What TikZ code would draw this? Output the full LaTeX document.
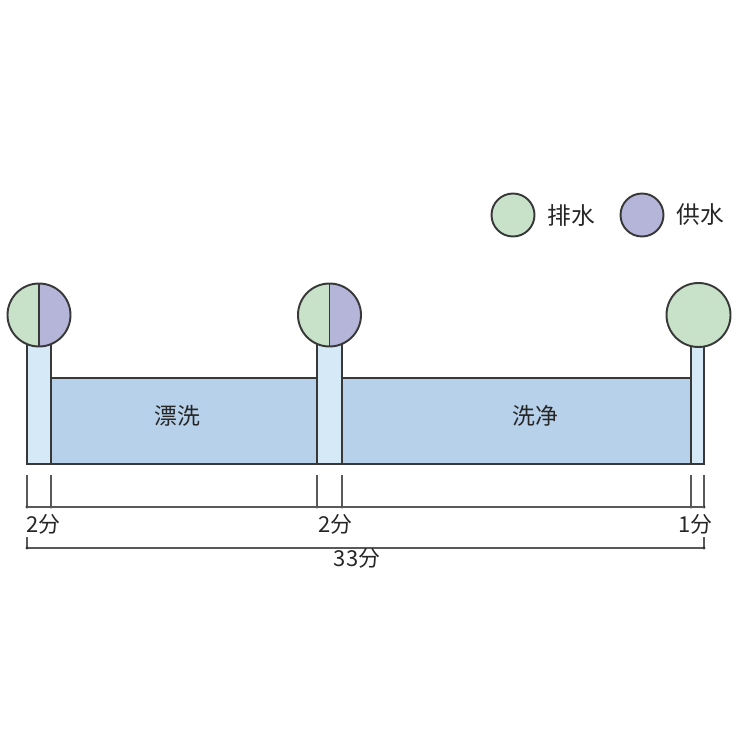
\documentclass[tikz,border=0pt]{standalone}
\usepackage{fontspec}
\setmainfont{Noto Sans CJK SC}
\begin{document}
\begin{tikzpicture}[x=0.02cm,y=-0.02cm,
  outl/.style={draw=black!78,line width=1.1pt},
  tank/.style={outl,fill=tankblue},
  pipe/.style={outl,fill=pipeblue},
  dim/.style={draw=black!65,line width=0.6pt},
  dimdot/.style={fill=black!80},
  lbl/.style={font=\fontsize{12.5}{14}\selectfont,text=black!85,inner sep=0pt},
  tlbl/.style={font=\fontsize{13}{15}\selectfont,text=black!85,inner sep=0pt},
  leg/.style={font=\fontsize{13.5}{16}\selectfont,text=black!85,inner sep=0pt}]
\definecolor{tankblue}{HTML}{B8D1EB}
\definecolor{pipeblue}{HTML}{D5E9F7}
\definecolor{drain}{HTML}{C8E2CA}
\definecolor{supply}{HTML}{B5B5DA}
\useasboundingbox (0,0) rectangle (750,750);
% tanks
\draw[tank] (51,378) rectangle (317,464);
\draw[tank] (342,378) rectangle (691,464);
% pipes
\draw[pipe] (27,340) rectangle (51,464);
\draw[pipe] (317,340) rectangle (342,464);
\draw[pipe] (691,340) rectangle (704,464);
% split circles
\foreach \cx/\nm in {39/c1,329.5/c2}{
  \fill[drain] (\cx,315) ++(90:31.5) arc[start angle=90,end angle=270,radius=31.5] -- cycle;
  \fill[supply] (\cx,315) ++(-90:31.5) arc[start angle=-90,end angle=90,radius=31.5] -- cycle;
  \draw[outl] (\cx,283.5) -- (\cx,346.5);
  \node[circle,outl,minimum size=63*0.02cm,inner sep=0pt] (\nm) at (\cx,315) {};
}
\node[circle,outl,fill=drain,minimum size=64*0.02cm,inner sep=0pt] (c3) at (698.5,315) {};
% tank labels
\node[tlbl] (t1) at (177,416) {漂洗};
\node[tlbl] (t2) at (535.5,416) {洗净};
% legend
\node[circle,outl,fill=drain,minimum size=43*0.02cm,inner sep=0pt] (l1) at (513,215) {};
\node[leg] (l1t) at (571,215) {排水};
\node[circle,outl,fill=supply,minimum size=43*0.02cm,inner sep=0pt] (l2) at (642,215) {};
\node[leg] (l2t) at (700,215) {供水};
% dimensions
\foreach \x/\n in {27/a,51/b,317/c,342/d,691/e,704/f}{
  \coordinate (\n top) at (\x,475);
  \coordinate (\n) at (\x,507);
  \draw[dim] (\n top) -- (\n);
  \fill[dimdot] (\n) circle[radius=1.6];
}
\draw[dim] (a) -- (f);
\coordinate (g) at (27,548); \coordinate (gt) at (27,537);
\coordinate (h) at (704,548); \coordinate (ht) at (704,537);
\draw[dim] (gt) -- (g); \draw[dim] (ht) -- (h);
\draw[dim] (g) -- (h);
\fill[dimdot] (g) circle[radius=1.6];
\fill[dimdot] (h) circle[radius=1.6];
\node[lbl,anchor=west] (d1) at (26,524) {2分};
\node[lbl,anchor=west] (d2) at (318,524) {2分};
\node[lbl,anchor=east] (d3) at (713,524) {1分};
\node[lbl] (d4) at (357,558) {33分};
\end{tikzpicture}
\end{document}
